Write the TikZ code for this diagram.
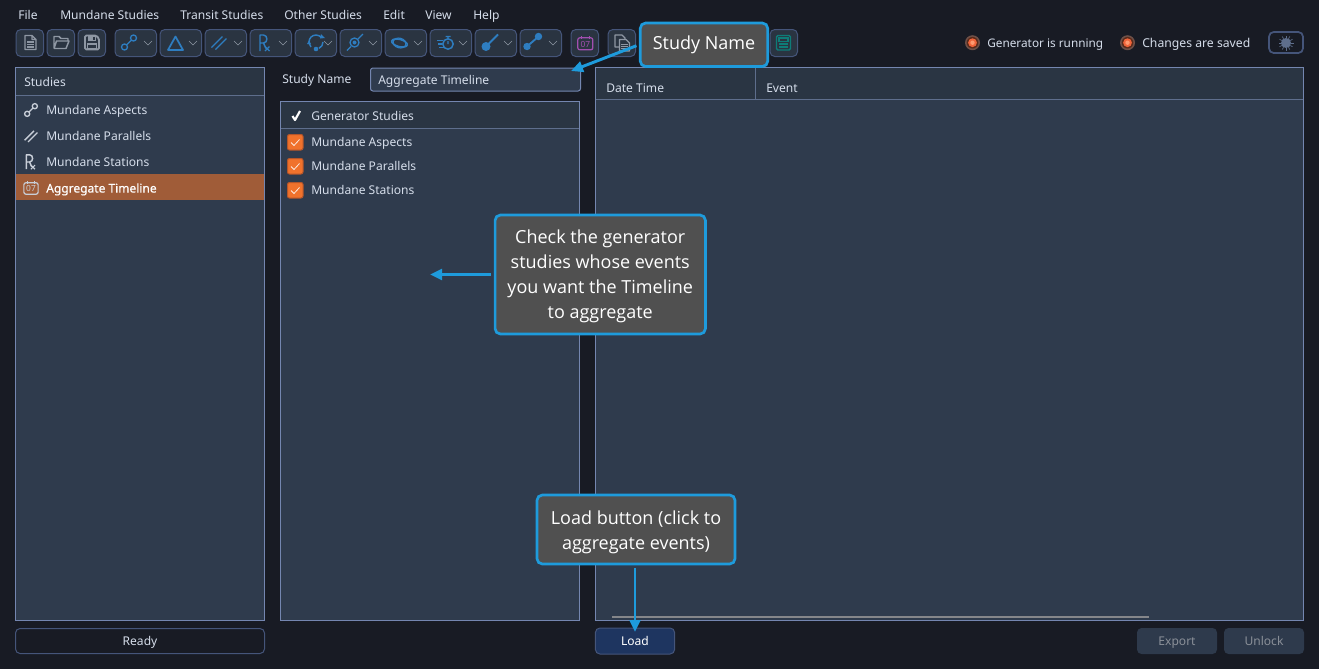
\documentclass[tikz,border=0pt]{standalone}
\usepackage{fontspec}
\setmainfont{Noto Sans}
\newfontfamily\callfont{Open Sans}
\newfontfamily\semiui[FakeBold=0.5]{Noto Sans}
\usetikzlibrary{arrows.meta,calc}
\definecolor{bgc}{HTML}{181B24}
\definecolor{panelc}{HTML}{2F3B4D}
\definecolor{headc}{HTML}{2A3543}
\definecolor{edgec}{HTML}{7486B0}
\definecolor{sepc}{HTML}{5E6E8C}
\definecolor{btnc}{HTML}{2A3441}
\definecolor{btnedge}{HTML}{45557A}
\definecolor{uitext}{HTML}{D5DDEA}
\definecolor{iconb}{HTML}{2E7DC0}
\definecolor{icong}{HTML}{8E97A3}
\definecolor{iconw}{HTML}{C8CED8}
\definecolor{selc}{HTML}{A05C38}
\definecolor{chk}{HTML}{F0722C}
\definecolor{chkedge}{HTML}{B4552A}
\definecolor{callb}{HTML}{1E9BDC}
\definecolor{callf}{HTML}{505050}
\definecolor{loadc}{HTML}{1E3560}
\definecolor{disc}{HTML}{2E3A4C}
\definecolor{distext}{HTML}{8A8F98}
\definecolor{purp}{HTML}{A24FB0}
\definecolor{teal2}{HTML}{0E7C78}
\definecolor{ringo}{HTML}{6E5048}
\definecolor{ringd}{HTML}{5A2A1A}
\definecolor{ledc}{HTML}{F0643A}
\definecolor{ledh}{HTML}{FF9A70}
\definecolor{scrollc}{HTML}{85868A}
\tikzset{
  ui/.style={font=\fontsize{9.05}{11}\selectfont,text=uitext,anchor=base west,inner sep=0pt,yshift=-3.4pt},
  panel/.style={fill=panelc,draw=edgec,line width=0.75pt},
  tbtn/.style={fill=btnc,draw=btnedge,line width=0.75pt,rounded corners=3.6pt},
  chev/.style={draw=icong,line width=0.5pt},
  ib/.style={draw=iconb,line width=1.3pt,fill=none},
  callout/.style={draw=callb,fill=callf,line width=2pt,rounded corners=4pt,text=white,
     font=\callfont\fontsize{13.5}{18.75}\selectfont,align=center,inner sep=0pt},
  callarrow/.style={draw=callb,line width=2.2pt,-{Triangle[length=9pt,width=8pt]}},
  pushb/.style={rounded corners=3.4pt,line width=0.75pt,inner sep=0pt,text height=7pt,text depth=0.5pt,
     font=\fontsize{9.05}{11}\selectfont},
  aspect/.pic={\draw[line width=1pt,pic actions] (-4.5,4.5) circle (3) (4.5,-4.5) circle (3) (-2.4,2.4)--(2.4,-2.4);},
  parall/.pic={\draw[line width=1pt,pic actions] (-7.5,5)--(3.5,-6) (-3.5,7)--(7.5,-4);},
  rxic/.pic={\draw[line width=1.1pt,pic actions,line join=round] (-4,8)--(-4,-8)--(-0.5,-8) .. controls (4,-8) and (4,0) .. (-0.5,0)--(-4,0) (-0.5,0)--(2,5.5);
     \draw[line width=0.9pt,pic actions] (1,3.5)--(5.5,8) (1,8)--(5.5,3.5);},
  calic/.pic={\draw[line width=0.9pt,pic actions,rounded corners=1.5pt] (-7.5,-5.5) rectangle (7.5,6.5);
     \draw[line width=0.9pt,pic actions] (-4,-7.5)--(-4,-4.5) (4,-7.5)--(4,-4.5);
     \node[font=\fontsize{6.3}{7}\selectfont,inner sep=0pt,text=.] (calnum) at (0,0.7) {07};},
}
\begin{document}
\begin{tikzpicture}[x=0.75pt,y=-0.75pt]
\useasboundingbox (0,0) rectangle (1319,669);
\fill[bgc] (0,0) rectangle (1319,669);
% menu
\foreach \n/\x/\t in {mFile/18/File,mMund/60/Mundane Studies,mTrans/180/Transit Studies,mOther/284/Other Studies,mEdit/383/Edit,mView/425/View,mHelp/473/Help}
  \node[ui] (\n) at (\x,14.5) {\t};
% toolbar plain buttons
\foreach \x in {16,47,78,571,608,770}
  \draw[tbtn] (\x,29.5) rectangle ++(27.5,27);
% toolbar dropdown buttons
\foreach \x in {115,160,205,250,295,340,385,430,475,520}{
  \draw[tbtn] (\x,29.5) rectangle ++(41.5,27);
  \draw[chev] ($(\x,41)+(29,0)$) -- ++(4,4) -- ++(4,-4);
}
% file icons
\draw[icong,line width=1pt,line join=round] (25,35.5)--(32,35.5)--(36,39.5)--(36,49.5)--(25,49.5)--cycle (32,35.5)--(32,39.5)--(36,39.5);
\draw[icong,line width=0.9pt] (27,42)--(34,42) (27,44.5)--(34,44.5) (27,47)--(34,47);
\draw[icong,line width=1.1pt,line join=round] (54,48.5)--(54,36.5)--(59,36.5)--(61,38.5)--(68,38.5)--(68,41) (54,48.5)--(66,48.5)--(69,41)--(56.5,41)--(54,48.5);
\draw[icong,line width=1.4pt,rounded corners=1pt] (85,35.5)--(96,35.5)--(99,38.5)--(99,49.5)--(85,49.5)--cycle;
\fill[icong] (88,36)--(96,36)--(96,41)--(88,41)--cycle;
\fill[btnc] (93,37)rectangle(95,40);
\draw[icong,line width=1pt] (87.5,44)rectangle(96.5,49);
% blue icons
\pic[iconb] at (129,42.5) {aspect};
\draw[ib,line join=round] (175.5,36.5)--(183,50)--(168,50)--cycle;
\pic[iconb] at (219,42.5) {parall};
\pic[iconb] at (264,43) {rxic};
\draw[iconb,line width=1.1pt] (309,42) arc (180:320:7);
\draw[iconb,line width=1.1pt] (323,42) arc (0:65:7);
\draw[iconb,line width=1.1pt] (311,47) arc (135:170:7);
\fill[iconb] (316,49) circle (2.3);
\fill[iconb] (321,34) -- (325,38) -- (320,38.5) -- cycle;
\fill[iconb] (307,44) -- (311,44) -- (309,40.5) -- cycle;
\draw[iconb,line width=1pt] (354.5,42.5) circle (4.5);
\fill[iconb] (354.5,42.5) circle (2);
\draw[iconb,line width=1pt] (347,50.5)--(351,46.5) (358,39)--(363,34);
\draw[iconb,line width=1.2pt,rotate around={-15:(399.5,43)}] (399.5,43) ellipse (8 and 3.6);
\draw[iconb,line width=0.9pt,rotate around={-15:(399.5,43)}] (399.5,43) ellipse (6.5 and 4.8);
\draw[iconb,line width=1.1pt] (448,44) circle (5.2) (448,44)--(448,41) (448,38.8)--(448,37) (445.5,36.5)--(450.5,36.5);
\draw[iconb,line width=0.9pt] (437,40.5)--(443,40.5) (438,44)--(442,44) (439,47.5)--(444,47.5);
\fill[iconb] (486,46.5) circle (4.5);
\draw[iconb,line width=1.4pt] (486,46.5)--(498,34.5);
\fill[iconb] (527,46.5) circle (3.7) (538.5,36.5) circle (3.7);
\draw[iconb,line width=1.4pt] (527,46.5)--(538.5,36.5);
\pic[purp] at (585.3,43.3) {calic};
% copy icon
\draw[icong,line width=0.9pt,line join=round] (615,35)--(622,35)--(625,38)--(625,47)--(615,47)--cycle;
\draw[icong,fill=btnc,line width=0.9pt,line join=round] (619.5,39.5)--(626,39.5)--(629.5,43)--(629.5,51)--(619.5,51)--cycle;
\draw[icong,line width=0.7pt] (621,44)--(628,44) (621,46)--(628,46) (621,48)--(628,48);
% calculator icon
\draw[teal2,line width=1.1pt,rounded corners=1pt] (776.5,35.5)rectangle(790.5,50);
\draw[teal2,line width=0.9pt] (779,38)rectangle(788,41.5);
\draw[teal2,line width=1.1pt] (779,44)--(788,44) (779,47)--(788,47);
% status
\foreach \n/\x in {radioA/972.5,radioB/1127.5}{
  \fill[ringo] (\x,42.7) circle (7.5);
  \fill[ringd] (\x,42.7) circle (5.8);
  \fill[ledc] (\x,42.7) circle (4.4);
  \fill[ledh] (\x,42.7) circle (2.2);
  \coordinate (\n) at (\x,42.7);
}
\node[ui,font=\fontsize{8.85}{11}\selectfont] (stGen) at (987,43) {Generator is running};
\node[ui,font=\fontsize{9.15}{11}\selectfont] (stSave) at (1142,43) {Changes are saved};
\draw[draw=btnedge,line width=1.3pt,rounded corners=3.5pt] (1269,32)rectangle(1303,53);
\fill[sepc] (1286,43) circle (5);
\foreach \a in {0,30,...,330} \draw[sepc,line width=0.5pt] (1286,43)++(\a:5)--++(\a:2.5);
% Studies panel
\draw[panel] (15.5,67.5) rectangle (264.5,620.5);
\fill[headc] (16,68) rectangle (264,95);
\draw[sepc,line width=1pt] (16,95.5)--(264,95.5);
\fill[selc] (16,174) rectangle (264,200);
\node[ui] (hStudies) at (24,82) {Studies};
\node[ui] (s1) at (46,110) {Mundane Aspects};
\node[ui] (s2) at (46,136) {Mundane Parallels};
\node[ui] (s3) at (46,162) {Mundane Stations};
\node[ui,text=white,font=\semiui\fontsize{9.0}{11}\selectfont] (s4) at (46,188) {Aggregate Timeline};
\pic[iconw,scale=0.85] at (31,110) {aspect};
\pic[iconw,scale=0.85] at (31,136) {parall};
\pic[iconw,scale=0.9] at (30,162) {rxic};
\pic[iconw,scale=0.95] at (31,188) {calic};
% Study name
\node[ui] (lblName) at (282,79) {Study Name};
\node[draw=edgec,fill=panelc,line width=0.75pt,rounded corners=1.8pt,minimum width=157.5pt,minimum height=17.25pt,inner sep=0pt,anchor=north west] (entry) at (370,67.5) {};
\node[ui] (entryText) at (378,79.5) {Aggregate Timeline};
% Generator panel
\draw[panel] (280.5,101.5) rectangle (579.5,620);
\fill[headc] (281,102) rectangle (579,128);
\draw[sepc,line width=1pt] (281,128.5)--(579,128.5);
\draw[white,line width=1.6pt,line join=round] (292.5,116)--(295,120)--(300,111);
\node[ui] (hGen) at (311,116) {Generator Studies};
\foreach \n/\y/\t in {g1/142/Mundane Aspects,g2/166/Mundane Parallels,g3/190/Mundane Stations}{
  \draw[fill=chk,draw=chkedge,line width=0.75pt,rounded corners=1.5pt] (287.5,\y-7.5) rectangle (303,\y+8);
  \draw[white!85!chk,line width=0.6pt] (291,\y+0.5)--(294,\y+3.5)--(299.5,\y-2.5);
  \node[ui] (\n) at (311,\y) {\t};
}
% Right panel
\draw[panel] (595.5,67.5) rectangle (1303.5,620.5);
\fill[headc] (596,68) rectangle (1303,99);
\draw[sepc,line width=0.75pt] (596,99.5)--(1303,99.5) (755.5,68)--(755.5,99);
\node[ui] (hDate) at (606,88) {Date Time};
\node[ui] (hEvent) at (766,88) {Event};
\fill[scrollc] (612,616) rectangle (1149,618);
% bottom buttons
\node[pushb,draw=btnedge,minimum width=186.75pt,minimum height=18.75pt,text=uitext] (ready) at (140,641) {Ready};
\node[pushb,draw=btnedge,fill=loadc,minimum width=59.4pt,minimum height=19.5pt,text=white] (load) at (635,641) {Load};
\node[pushb,fill=disc,minimum width=60pt,minimum height=19.5pt,text=distext] (export) at (1177,641) {Export};
\node[pushb,fill=disc,minimum width=60pt,minimum height=19.5pt,text=distext] (unlock) at (1264,641) {Unlock};
% callouts
\node[callout,minimum width=95.6pt,minimum height=32.6pt] (cName) at (704,44.75) {Study Name};
\node[callout,minimum width=157.75pt,minimum height=89.25pt] (cCheck) at (600.25,274.5) {\rule{0pt}{13.5pt}Check the generator\\studies whose events\\you want the Timeline\\to aggregate};
\node[callout,minimum width=148.5pt,minimum height=51.75pt] (cLoad) at (636,529.5) {\rule{0pt}{14pt}Load button (click to\\aggregate events)};
\coordinate (tName) at (571,71);
\coordinate (tCheck) at (430,274.5);
\coordinate (tLoad) at (635,632);
\draw[callarrow,shorten <=2pt] (cName.west) -- (tName);
\draw[callarrow,shorten <=2pt] (cCheck.west) -- (tCheck);
\draw[callarrow,shorten <=2pt] (cLoad.south -| tLoad) -- (tLoad);
\end{tikzpicture}
\end{document}
